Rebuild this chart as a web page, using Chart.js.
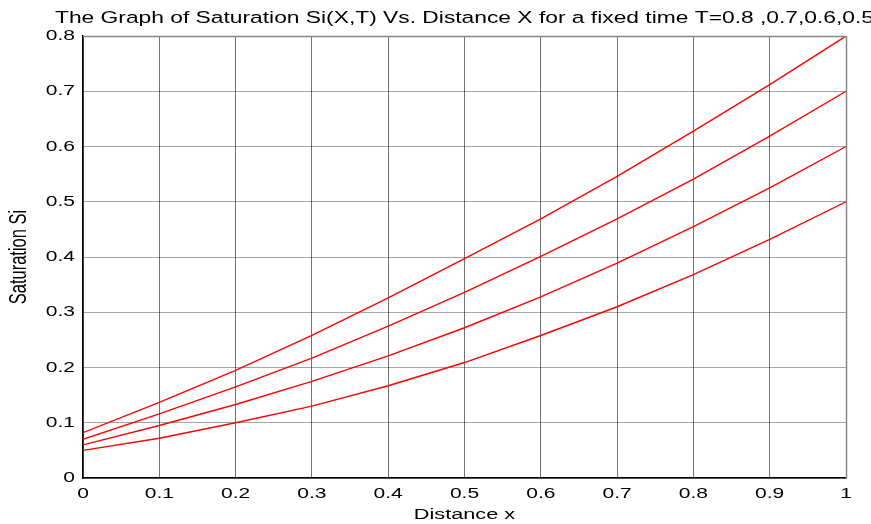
<!DOCTYPE html>
<html>
<head>
<meta charset="utf-8">
<script src="https://cdn.jsdelivr.net/npm/chart.js@4"></script>
<style>
  html, body { margin: 0; padding: 0; background: #fff; }
  #wrap { width: 871px; height: 524px; }
</style>
</head>
<body>
<div id="wrap"><canvas id="satChart" width="871" height="524"></canvas></div>
<script>
// distance x
const distance = [0, 0.1, 0.2, 0.3, 0.4, 0.5, 0.6, 0.7, 0.8, 0.9, 1];
// saturation at fixed times
const satT08 = [0.082, 0.137, 0.195, 0.258, 0.326, 0.397, 0.469, 0.546, 0.628, 0.712, 0.8];
const satT07 = [0.070, 0.116, 0.165, 0.217, 0.275, 0.336, 0.401, 0.469, 0.541, 0.619, 0.7];
const satT06 = [0.060, 0.095, 0.133, 0.175, 0.221, 0.272, 0.328, 0.389, 0.455, 0.525, 0.6];
const satT05 = [0.050, 0.072, 0.100, 0.130, 0.167, 0.209, 0.258, 0.310, 0.368, 0.432, 0.5];
const seriesLabels = ['T=0.8', 'T=0.7', 'T=0.6', 'T=0.5'];

const allSeries = [satT08, satT07, satT06, satT05];
const fontFamily = 'Liberation Sans, Arial, sans-serif';
// the original figure has its text stretched sideways
const textStretch = 1.4;

function toPoints(ys) {
    return distance.map((x, i) => ({ x: x, y: ys[i] }));
}

const stretchTextPlugin = {
    id: 'stretchText',
    beforeInit(chart) {
        const c = chart.ctx;
        const orig = c.fillText.bind(c);
        c.fillText = function(text, x, y) {
            const m = c.getTransform();
            c.save();
            c.translate(x, y);
            if (Math.abs(m.b) > 0.5) c.scale(1, textStretch);
            else c.scale(textStretch, 1);
            orig(text, 0, 0);
            c.restore();
        };
    }
};

// top and right edges of the box
const boxPlugin = {
    id: 'box',
    afterDraw(chart) {
        const { ctx, chartArea: a } = chart;
        ctx.save();
        ctx.strokeStyle = '#888';
        ctx.lineWidth = 1.5;
        ctx.beginPath();
        ctx.moveTo(a.left, a.top + 0.5);
        ctx.lineTo(a.right + 0.5, a.top + 0.5);
        ctx.lineTo(a.right + 0.5, a.bottom);
        ctx.stroke();
        ctx.restore();
    }
};

const ctx = document.getElementById('satChart');
new Chart(ctx, {
    type: 'line',
    data: {
        datasets: allSeries.map((ys, i) => ({
            label: seriesLabels[i],
            data: toPoints(ys),
            borderColor: 'rgb(255, 0, 0)',
            borderWidth: 1.4,
            pointRadius: 0,
            tension: 0,
            fill: false
        }))
    },
    options: {
        responsive: false,
        animation: false,
        layout: {
            padding: { left: 0, right: 25, top: 0, bottom: 0 }
        },
        plugins: {
            legend: { display: false },
            tooltip: { enabled: false },
            title: {
                display: true,
                fullSize: false,
                text: 'The Graph of Saturation Si(X,T) Vs. Distance X for a fixed time T=0.8 ,0.7,0.6,0.5',
                color: '#000',
                font: { family: fontFamily, size: 16.3, weight: 'normal' },
                padding: { top: 9, bottom: 7.5 }
            }
        },
        scales: {
            x: {
                type: 'linear',
                min: 0,
                max: 1,
                afterFit: s => { s.height = 46; },
                ticks: {
                    stepSize: 0.1,
                    color: '#000',
                    font: { family: fontFamily, size: 15 },
                    padding: 7,
                    maxRotation: 0,
                    callback: v => String(+v.toFixed(1))
                },
                grid: {
                    color: 'rgba(0, 0, 0, 0.55)',
                    drawTicks: false
                },
                border: { color: '#000', width: 1.5 },
                title: {
                    display: true,
                    text: 'Distance x',
                    color: '#000',
                    font: { family: fontFamily, size: 15.5 },
                    padding: { top: 0, bottom: 0 }
                }
            },
            y: {
                type: 'linear',
                min: 0,
                max: 0.8,
                afterFit: s => { s.width = 83; },
                ticks: {
                    stepSize: 0.1,
                    color: '#000',
                    font: { family: fontFamily, size: 15 },
                    padding: 8,
                    callback: v => String(+v.toFixed(1))
                },
                grid: {
                    color: 'rgba(0, 0, 0, 0.35)',
                    drawTicks: false
                },
                border: { color: '#000', width: 1.5 },
                title: {
                    display: true,
                    text: 'Saturation Si',
                    color: '#000',
                    font: { family: fontFamily, size: 16.5 },
                    padding: { top: 10, bottom: 0 }
                }
            }
        }
    },
    plugins: [stretchTextPlugin, boxPlugin]
});
</script>
</body>
</html>
